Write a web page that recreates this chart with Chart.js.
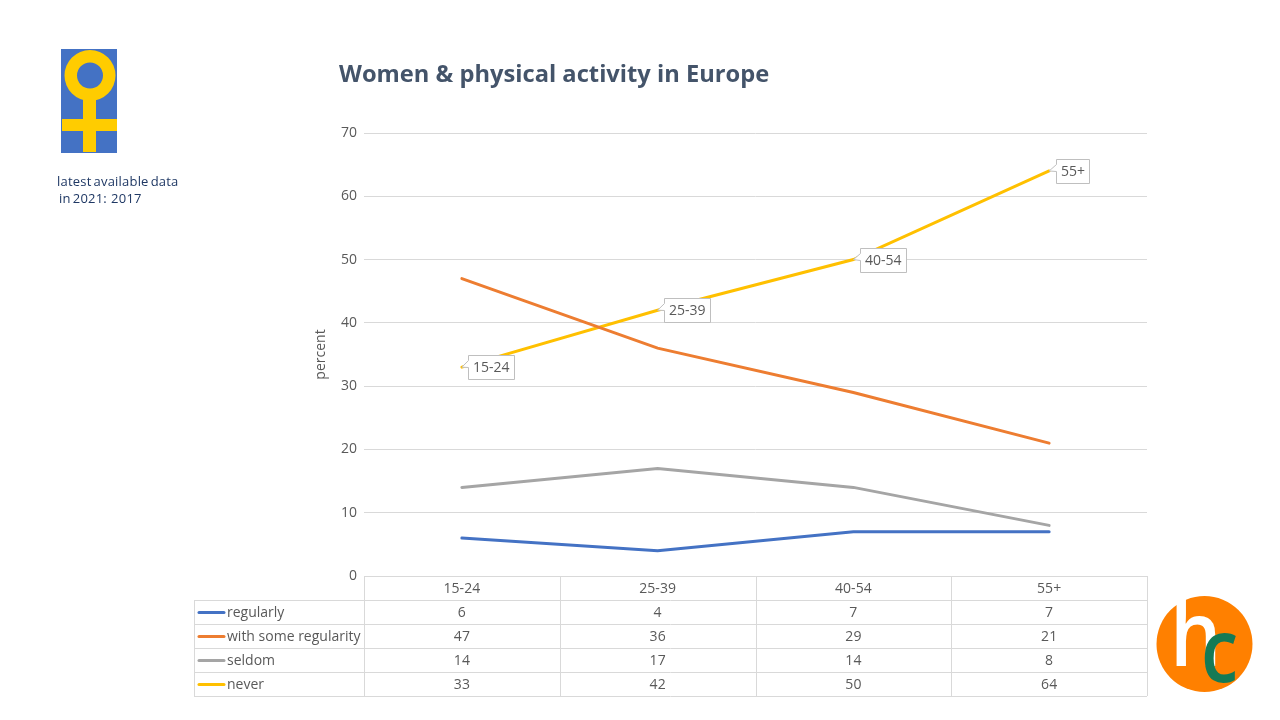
<!DOCTYPE html>
<html>
<head>
<meta charset="utf-8">
<title>Women & physical activity in Europe</title>
<script src="https://cdn.jsdelivr.net/npm/chart.js@4/dist/chart.umd.min.js"></script>
<style>
    body { margin: 0; background: #fff; width: 1280px; height: 720px; overflow: hidden; position: relative; }
    #chart { position: absolute; left: 0; top: 0; }
    #title { position: absolute; left: 339px; top: 57px; font: bold 23.7px "Open Sans"; color: #44546A; white-space: nowrap; }
    #note { position: absolute; left: 57px; top: 173px; font: 13px/17px "Open Sans"; color: #1F3864; white-space: pre; letter-spacing: 0.2px; word-spacing: -1.5px; }
</style>
</head>
<body>
<canvas id="chart" width="1280" height="720"></canvas>
<div id="title">Women &amp; physical activity in Europe</div>
<div id="note">latest available data
 in 2021:  2017</div>
<script>
const ageGroups = ['15-24', '25-39', '40-54', '55+'];
const regularly = [6, 4, 7, 7];
const someRegularity = [47, 36, 29, 21];
const seldom = [14, 17, 14, 8];
const never = [33, 42, 50, 64];

const seriesNames = ['regularly', 'with some regularity', 'seldom', 'never'];
const seriesValues = [regularly, someRegularity, seldom, never];
const seriesColors = ['#4472C4', '#ED7D31', '#A5A5A5', '#FFC000'];

const textColor = '#595959';
const gridColor = '#D9D9D9';
const tableFont = '14px "Open Sans"';

// the data table under the plot, it hangs on the x scale
const dataTable = {
    id: 'dataTable',
    afterDraw(chart) {
        const ctx = chart.ctx;
        const x = chart.scales.x;
        const left = chart.chartArea.left;
        const right = chart.chartArea.right;
        const top = chart.chartArea.bottom;
        const rowHeight = 24;
        const step = x.getPixelForValue(1) - x.getPixelForValue(0);
        const keyLeft = 194;

        ctx.save();
        ctx.strokeStyle = gridColor;
        ctx.lineWidth = 1;
        for (let r = 0; r <= 5; r++) {
            const y = Math.round(top + r * rowHeight) + 0.5;
            ctx.beginPath();
            ctx.moveTo(r === 0 ? left : keyLeft, y);
            ctx.lineTo(right, y);
            ctx.stroke();
        }
        for (let c = 0; c <= ageGroups.length; c++) {
            const px = Math.round(left + c * step) + 0.5;
            ctx.beginPath();
            ctx.moveTo(px, top);
            ctx.lineTo(px, top + 5 * rowHeight);
            ctx.stroke();
        }
        ctx.beginPath();
        ctx.moveTo(keyLeft + 0.5, top + rowHeight);
        ctx.lineTo(keyLeft + 0.5, top + 5 * rowHeight);
        ctx.stroke();

        ctx.font = tableFont;
        ctx.fillStyle = textColor;
        ctx.textBaseline = 'middle';
        ctx.textAlign = 'center';
        ageGroups.forEach((group, c) => {
            ctx.fillText(group, x.getPixelForValue(c), top + rowHeight / 2 + 1);
        });
        seriesNames.forEach((name, r) => {
            const y = top + (r + 1.5) * rowHeight + 1;
            ctx.strokeStyle = seriesColors[r];
            ctx.lineWidth = 3;
            ctx.lineCap = 'round';
            ctx.beginPath();
            ctx.moveTo(keyLeft + 5, y - 0.5);
            ctx.lineTo(keyLeft + 30, y - 0.5);
            ctx.stroke();
            ctx.textAlign = 'left';
            ctx.fillText(name, keyLeft + 33, y);
            ctx.textAlign = 'center';
            seriesValues[r].forEach((value, c) => {
                ctx.fillText(value, x.getPixelForValue(c), y);
            });
        });
        ctx.restore();
    }
};

// callout labels on the "never" line
const calloutLabels = {
    id: 'calloutLabels',
    afterDatasetsDraw(chart) {
        const ctx = chart.ctx;
        const points = chart.getDatasetMeta(3).data;
        ctx.save();
        ctx.font = tableFont;
        ctx.textBaseline = 'middle';
        ctx.textAlign = 'left';
        points.forEach((point, i) => {
            const label = ageGroups[i];
            const boxLeft = Math.round(point.x + 6.5) + 0.5;
            const boxTop = Math.round(point.y - 12) + 0.5;
            const boxWidth = Math.round(ctx.measureText(label).width + 9);
            const boxHeight = 24;
            ctx.fillStyle = '#fff';
            ctx.strokeStyle = '#BFBFBF';
            ctx.lineWidth = 1;
            ctx.beginPath();
            ctx.moveTo(boxLeft, boxTop);
            ctx.lineTo(boxLeft + boxWidth, boxTop);
            ctx.lineTo(boxLeft + boxWidth, boxTop + boxHeight);
            ctx.lineTo(boxLeft, boxTop + boxHeight);
            ctx.lineTo(boxLeft, boxTop + 12);
            ctx.lineTo(point.x, point.y);
            ctx.lineTo(boxLeft, boxTop + 5);
            ctx.closePath();
            ctx.fill();
            ctx.stroke();
            ctx.fillStyle = textColor;
            ctx.fillText(label, boxLeft + 4.5, boxTop + boxHeight / 2 + 0.5);
        });
        ctx.restore();
    }
};

// the two small logos
const logos = {
    id: 'logos',
    afterDraw(chart) {
        const ctx = chart.ctx;
        ctx.save();

        ctx.fillStyle = '#4472C4';
        ctx.fillRect(61, 49, 56, 104);
        ctx.fillStyle = '#FFCC00';
        ctx.beginPath();
        ctx.arc(90, 75.5, 25.5, 0, Math.PI * 2);
        ctx.arc(90, 75.5, 13, 0, Math.PI * 2, true);
        ctx.fill('evenodd');
        ctx.fillRect(83, 98, 13, 54);
        ctx.fillRect(62, 119, 55, 12);

        ctx.fillStyle = '#FF8000';
        ctx.beginPath();
        ctx.arc(1204.5, 644, 48, 0, Math.PI * 2);
        ctx.fill();
        ctx.textAlign = 'left';
        ctx.textBaseline = 'alphabetic';

        // both letters are narrower than the font draws them
        ctx.save();
        ctx.translate(1170, 666);
        ctx.scale(0.9, 1);
        ctx.fillStyle = '#fff';
        ctx.font = '600 90px "Open Sans"';
        ctx.fillText('h', 0, 0);
        ctx.restore();

        ctx.save();
        ctx.translate(1201, 682);
        ctx.scale(0.85, 1);
        ctx.fillStyle = '#157A55';
        ctx.font = '600 88px "Open Sans"';
        ctx.fillText('c', 0, 0);
        ctx.restore();

        ctx.restore();
    }
};

new Chart(document.getElementById('chart'), {
    type: 'line',
    data: {
        labels: ageGroups,
        datasets: seriesNames.map((name, i) => ({
            label: name,
            data: seriesValues[i],
            borderColor: seriesColors[i],
            backgroundColor: seriesColors[i],
            borderWidth: 3,
            borderCapStyle: 'round',
            pointRadius: 0,
            tension: 0
        }))
    },
    options: {
        responsive: false,
        animation: false,
        devicePixelRatio: 1,
        layout: { padding: { left: 304, right: 133, top: 133, bottom: 144 } },
        plugins: {
            legend: { display: false },
            title: { display: false },
            tooltip: { enabled: false }
        },
        scales: {
            x: {
                offset: true,
                grid: { display: false },
                border: { display: false },
                ticks: { display: false },
                afterFit: (scale) => { scale.height = 0; }
            },
            y: {
                min: 0,
                max: 70,
                afterFit: (scale) => { scale.width = 60; },
                grid: { color: gridColor, drawTicks: false },
                border: { display: false },
                ticks: {
                    stepSize: 10,
                    padding: 7,
                    color: textColor,
                    font: { family: 'Open Sans', size: 14 }
                },
                title: {
                    display: true,
                    text: 'percent',
                    color: textColor,
                    font: { family: 'Open Sans', size: 14 },
                    padding: { top: 9, bottom: 0 }
                }
            }
        }
    },
    plugins: [dataTable, calloutLabels, logos]
});
</script>
</body>
</html>
